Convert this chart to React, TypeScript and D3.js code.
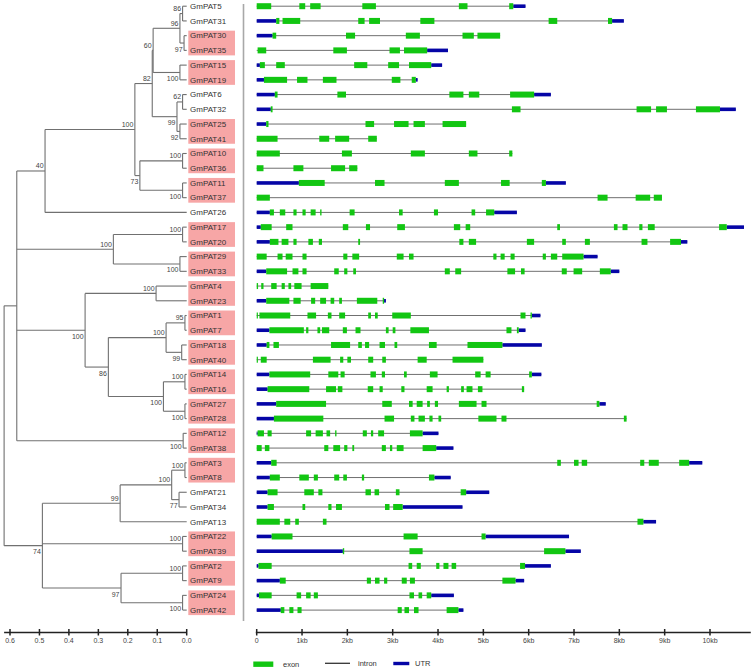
import React from 'react';
import * as d3 from 'd3';

const genes = [
  'GmPAT5', 'GmPAT31', 'GmPAT30', 'GmPAT35', 'GmPAT15', 'GmPAT19', 'GmPAT6', 'GmPAT32',
  'GmPAT25', 'GmPAT41', 'GmPAT10', 'GmPAT36', 'GmPAT11', 'GmPAT37', 'GmPAT26', 'GmPAT17',
  'GmPAT20', 'GmPAT29', 'GmPAT33', 'GmPAT4', 'GmPAT23', 'GmPAT1', 'GmPAT7', 'GmPAT18',
  'GmPAT40', 'GmPAT14', 'GmPAT16', 'GmPAT27', 'GmPAT28', 'GmPAT12', 'GmPAT38', 'GmPAT3',
  'GmPAT8', 'GmPAT21', 'GmPAT34', 'GmPAT13', 'GmPAT22', 'GmPAT39', 'GmPAT2', 'GmPAT9',
  'GmPAT24', 'GmPAT42',
];

const highlightPairs = [
  ['GmPAT30', 'GmPAT35'], ['GmPAT15', 'GmPAT19'], ['GmPAT25', 'GmPAT41'], ['GmPAT10', 'GmPAT36'],
  ['GmPAT11', 'GmPAT37'], ['GmPAT17', 'GmPAT20'], ['GmPAT29', 'GmPAT33'], ['GmPAT4', 'GmPAT23'],
  ['GmPAT1', 'GmPAT7'], ['GmPAT18', 'GmPAT40'], ['GmPAT14', 'GmPAT16'], ['GmPAT27', 'GmPAT28'],
  ['GmPAT12', 'GmPAT38'], ['GmPAT3', 'GmPAT8'], ['GmPAT22', 'GmPAT39'], ['GmPAT2', 'GmPAT9'],
  ['GmPAT24', 'GmPAT42'],
];

// internal nodes: id, children, height (distance from tips), bootstrap support
const treeNodes = [
  { id: 'A', children: ['GmPAT5', 'GmPAT31'], height: 0.014, support: 86 },
  { id: 'B', children: ['GmPAT30', 'GmPAT35'], height: 0.009, support: 97 },
  { id: 'C', children: ['A', 'B'], height: 0.023, support: 96 },
  { id: 'D', children: ['GmPAT15', 'GmPAT19'], height: 0.023, support: 100 },
  { id: 'E', children: ['C', 'D'], height: 0.114, support: 60 },
  { id: 'F', children: ['GmPAT6', 'GmPAT32'], height: 0.014, support: 62 },
  { id: 'G', children: ['GmPAT25', 'GmPAT41'], height: 0.023, support: 92 },
  { id: 'H', children: ['F', 'G'], height: 0.033, support: 99 },
  { id: 'I', children: ['E', 'H'], height: 0.117, support: 82 },
  { id: 'J', children: ['GmPAT10', 'GmPAT36'], height: 0.014, support: 100 },
  { id: 'K', children: ['GmPAT11', 'GmPAT37'], height: 0.014, support: 100 },
  { id: 'L', children: ['J', 'K'], height: 0.159, support: 73 },
  { id: 'M', children: ['I', 'L'], height: 0.176, support: 100 },
  { id: 'N', children: ['M', 'GmPAT26'], height: 0.481, support: 40 },
  { id: 'O', children: ['GmPAT17', 'GmPAT20'], height: 0.014, support: 100 },
  { id: 'P', children: ['GmPAT29', 'GmPAT33'], height: 0.023, support: 100 },
  { id: 'Q', children: ['O', 'P'], height: 0.249, support: 100 },
  { id: 'R', children: ['GmPAT4', 'GmPAT23'], height: 0.104, support: 100 },
  { id: 'S', children: ['GmPAT1', 'GmPAT7'], height: 0.006, support: 95 },
  { id: 'T', children: ['GmPAT18', 'GmPAT40'], height: 0.017, support: 99 },
  { id: 'U', children: ['S', 'T'], height: 0.07, support: 100 },
  { id: 'V', children: ['GmPAT14', 'GmPAT16'], height: 0.006, support: 100 },
  { id: 'W', children: ['GmPAT27', 'GmPAT28'], height: 0.006, support: 100 },
  { id: 'X', children: ['V', 'W'], height: 0.079, support: 100 },
  { id: 'Y', children: ['U', 'X'], height: 0.266, support: 86 },
  { id: 'Z', children: ['R', 'Y'], height: 0.345, support: 100 },
  { id: 'AA', children: ['GmPAT12', 'GmPAT38'], height: 0.012, support: 100 },
  { id: 'AB', children: ['N', 'Q', 'Z', 'AA'], height: 0.577, support: null },
  { id: 'AC', children: ['GmPAT3', 'GmPAT8'], height: 0.006, support: 100 },
  { id: 'AD', children: ['GmPAT21', 'GmPAT34'], height: 0.026, support: 77 },
  { id: 'AE', children: ['AC', 'AD'], height: 0.051, support: 100 },
  { id: 'AF', children: ['AE', 'GmPAT13'], height: 0.226, support: 99 },
  { id: 'AG', children: ['GmPAT22', 'GmPAT39'], height: 0.014, support: 100 },
  { id: 'AH', children: ['GmPAT2', 'GmPAT9'], height: 0.014, support: 100 },
  { id: 'AI', children: ['GmPAT24', 'GmPAT42'], height: 0.014, support: 100 },
  { id: 'AJ', children: ['AH', 'AI'], height: 0.223, support: 97 },
  { id: 'AK', children: ['AF', 'AG', 'AJ'], height: 0.49, support: 74 },
  { id: 'root', children: ['AB', 'AK'], height: 0.62, support: null },
];

const supportBelow = ['B', 'D', 'G', 'H', 'K', 'L', 'P', 'T', 'W', 'X', 'Y', 'Z', 'AA', 'AD', 'AI', 'AJ', 'AK'];

// gene structures in kb: [start, end, kind] (E exon, U UTR)
const geneFeatures: Record<string, [number, number, string][]> = {
  GmPAT5: [[0, 0.32, 'E'], [0.94, 1.07, 'E'], [1.18, 1.41, 'E'], [2.33, 2.63, 'E'], [4.46, 4.65, 'E'], [5.57, 5.66, 'E'], [5.66, 5.93, 'U']],
  GmPAT31: [[0, 0.43, 'U'], [0.43, 0.5, 'E'], [0.57, 0.96, 'E'], [2.24, 2.38, 'E'], [2.48, 2.72, 'E'], [3.61, 3.92, 'E'], [6.44, 6.63, 'E'], [7.75, 7.84, 'E'], [7.84, 8.1, 'U']],
  GmPAT30: [[0, 0.35, 'U'], [0.35, 0.43, 'E'], [1.97, 2.17, 'E'], [3.29, 3.6, 'E'], [4.54, 4.79, 'E'], [4.87, 5.37, 'E']],
  GmPAT35: [[0, 0.02, 'I'], [0.02, 0.21, 'E'], [1.69, 1.99, 'E'], [2.93, 3.16, 'E'], [3.25, 3.76, 'E'], [3.76, 4.22, 'U']],
  GmPAT15: [[0, 0.07, 'U'], [0.07, 0.18, 'E'], [0.43, 0.62, 'E'], [2.15, 2.44, 'E'], [2.9, 3.14, 'E'], [3.36, 3.85, 'E'], [3.85, 4.09, 'U']],
  GmPAT19: [[0, 0.16, 'U'], [0.16, 0.67, 'E'], [0.89, 1.12, 'E'], [1.46, 1.76, 'E'], [2.98, 3.17, 'E'], [3.42, 3.51, 'E'], [3.51, 3.55, 'U']],
  GmPAT6: [[0, 0.4, 'U'], [0.4, 0.46, 'E'], [1.78, 1.97, 'E'], [4.25, 4.56, 'E'], [4.68, 4.91, 'E'], [5.59, 6.12, 'E'], [6.12, 6.49, 'U']],
  GmPAT32: [[0, 0.31, 'U'], [0.31, 0.35, 'E'], [5.63, 5.82, 'E'], [8.38, 8.7, 'E'], [8.81, 9.05, 'E'], [9.69, 10.22, 'E'], [10.22, 10.57, 'U']],
  GmPAT25: [[0, 0.21, 'U'], [0.21, 0.26, 'E'], [2.4, 2.59, 'E'], [3.03, 3.35, 'E'], [3.46, 3.71, 'E'], [4.1, 4.62, 'E']],
  GmPAT41: [[0, 0.46, 'E'], [1.38, 1.6, 'E'], [1.73, 2.04, 'E'], [2.46, 2.65, 'E']],
  GmPAT10: [[0, 0.51, 'E'], [1.88, 2.1, 'E'], [3.4, 3.71, 'E'], [4.68, 4.87, 'E'], [5.57, 5.64, 'E']],
  GmPAT36: [[0, 0.15, 'E'], [0.81, 1.03, 'E'], [1.64, 1.95, 'E'], [2.04, 2.22, 'E']],
  GmPAT11: [[0, 0.93, 'U'], [0.93, 1.5, 'E'], [2.61, 2.82, 'E'], [4.15, 4.46, 'E'], [5.39, 5.58, 'E'], [6.29, 6.38, 'E'], [6.38, 6.82, 'U']],
  GmPAT37: [[0, 0.29, 'E'], [7.52, 7.74, 'E'], [8.36, 8.68, 'E'], [8.76, 8.94, 'E']],
  GmPAT26: [[0, 0.29, 'U'], [0.29, 0.38, 'E'], [0.51, 0.63, 'E'], [0.81, 0.88, 'E'], [1.01, 1.08, 'E'], [1.19, 1.3, 'E'], [1.4, 1.43, 'E'], [2.05, 2.16, 'E'], [3.14, 3.22, 'E'], [3.91, 4.0, 'E'], [4.74, 4.82, 'E'], [5.06, 5.24, 'E'], [5.24, 5.74, 'U']],
  GmPAT17: [[0, 0.09, 'U'], [0.09, 0.33, 'E'], [0.65, 0.79, 'E'], [1.9, 2.02, 'E'], [2.41, 2.5, 'E'], [3.1, 3.27, 'E'], [4.35, 4.49, 'E'], [4.61, 4.71, 'E'], [6.63, 6.69, 'E'], [7.88, 7.96, 'E'], [8.07, 8.18, 'E'], [8.44, 8.51, 'E'], [8.63, 8.78, 'E'], [10.2, 10.37, 'E'], [10.37, 10.75, 'U']],
  GmPAT20: [[0, 0.29, 'U'], [0.29, 0.48, 'E'], [0.55, 0.7, 'E'], [0.81, 0.88, 'E'], [1.14, 1.24, 'E'], [1.37, 1.44, 'E'], [2.24, 2.28, 'E'], [4.47, 4.56, 'E'], [4.68, 4.84, 'E'], [5.96, 6.12, 'E'], [6.74, 6.82, 'E'], [7.24, 7.35, 'E'], [8.49, 8.62, 'E'], [9.12, 9.36, 'E'], [9.36, 9.5, 'U']],
  GmPAT29: [[0, 0.22, 'E'], [0.46, 0.57, 'E'], [0.64, 0.79, 'E'], [1.01, 1.1, 'E'], [1.91, 2.0, 'E'], [2.11, 2.26, 'E'], [3.09, 3.24, 'E'], [3.36, 3.46, 'E'], [5.22, 5.29, 'E'], [5.38, 5.47, 'E'], [5.6, 5.69, 'E'], [6.31, 6.38, 'E'], [6.49, 6.63, 'E'], [6.74, 7.21, 'E'], [7.21, 7.52, 'U']],
  GmPAT33: [[0, 0.21, 'U'], [0.21, 0.67, 'E'], [0.79, 0.92, 'E'], [1.01, 1.1, 'E'], [1.71, 1.81, 'E'], [1.93, 2.0, 'E'], [2.13, 2.19, 'E'], [4.15, 4.26, 'E'], [4.38, 4.51, 'E'], [5.53, 5.7, 'E'], [5.83, 5.91, 'E'], [6.73, 6.84, 'E'], [6.99, 7.18, 'E'], [7.57, 7.81, 'E'], [7.81, 8.0, 'U']],
  GmPAT4: [[0, 0.03, 'E'], [0.1, 0.15, 'E'], [0.32, 0.44, 'E'], [0.55, 0.62, 'E'], [0.7, 0.76, 'E'], [0.83, 0.99, 'E'], [1.19, 1.58, 'E']],
  GmPAT23: [[0, 0.21, 'U'], [0.21, 0.72, 'E'], [0.81, 0.97, 'E'], [1.2, 1.29, 'E'], [1.4, 1.53, 'E'], [1.63, 1.71, 'E'], [1.82, 1.88, 'E'], [2.21, 2.66, 'E'], [2.78, 2.81, 'E'], [2.81, 2.85, 'U']],
  GmPAT1: [[0, 0.02, 'E'], [0.06, 0.74, 'E'], [1.12, 1.31, 'E'], [1.57, 1.65, 'E'], [1.82, 1.95, 'E'], [2.46, 2.52, 'E'], [2.61, 2.67, 'E'], [2.99, 3.4, 'E'], [5.82, 5.93, 'E'], [6.04, 6.07, 'E'], [6.07, 6.26, 'U']],
  GmPAT7: [[0, 0.28, 'U'], [0.28, 1.04, 'E'], [1.09, 1.14, 'E'], [1.34, 1.4, 'E'], [1.44, 1.6, 'E'], [1.9, 1.99, 'E'], [2.18, 2.29, 'E'], [2.85, 2.91, 'E'], [3.0, 3.06, 'E'], [3.39, 3.8, 'E'], [5.51, 5.62, 'E'], [5.74, 5.78, 'E'], [5.78, 5.93, 'U']],
  GmPAT18: [[0, 0.22, 'U'], [0.22, 0.28, 'E'], [0.37, 0.49, 'E'], [1.64, 2.06, 'E'], [2.24, 2.32, 'E'], [2.39, 2.48, 'E'], [2.71, 2.83, 'E'], [3.04, 3.1, 'E'], [3.8, 3.97, 'E'], [4.65, 5.42, 'E'], [5.42, 6.29, 'U']],
  GmPAT40: [[0, 0.02, 'E'], [0.09, 0.22, 'E'], [1.24, 1.63, 'E'], [1.84, 1.91, 'E'], [2.0, 2.08, 'E'], [2.46, 2.57, 'E'], [2.77, 2.85, 'E'], [3.55, 3.75, 'E'], [4.32, 5.0, 'E']],
  GmPAT14: [[0, 0.28, 'U'], [0.28, 1.18, 'E'], [1.58, 1.8, 'E'], [1.85, 1.94, 'E'], [2.51, 2.63, 'E'], [2.76, 2.83, 'E'], [3.25, 3.31, 'E'], [3.82, 3.99, 'E'], [4.82, 4.94, 'E'], [5.05, 5.16, 'E'], [6.01, 6.07, 'E'], [6.07, 6.28, 'U']],
  GmPAT16: [[0, 0.24, 'U'], [0.24, 1.16, 'E'], [1.53, 1.75, 'E'], [1.79, 1.89, 'E'], [2.45, 2.57, 'E'], [2.71, 2.78, 'E'], [3.19, 3.26, 'E'], [3.75, 3.88, 'E'], [4.19, 4.24, 'E'], [4.51, 4.57, 'E'], [4.63, 4.76, 'E'], [4.88, 4.98, 'E'], [5.85, 5.9, 'E']],
  GmPAT27: [[0, 0.43, 'U'], [0.43, 1.53, 'E'], [2.77, 2.98, 'E'], [3.36, 3.44, 'E'], [3.53, 3.66, 'E'], [3.76, 3.82, 'E'], [3.93, 4.0, 'E'], [4.46, 4.85, 'E'], [4.96, 5.07, 'E'], [7.5, 7.56, 'E'], [7.56, 7.7, 'U']],
  GmPAT28: [[0, 0.38, 'U'], [0.38, 1.47, 'E'], [2.82, 3.03, 'E'], [3.4, 3.48, 'E'], [3.57, 3.71, 'E'], [3.81, 3.88, 'E'], [4.01, 4.07, 'E'], [4.89, 5.29, 'E'], [5.4, 5.51, 'E'], [8.1, 8.16, 'E']],
  GmPAT12: [[0, 0.02, 'U'], [0.02, 0.16, 'E'], [0.24, 0.33, 'E'], [1.09, 1.2, 'E'], [1.3, 1.46, 'E'], [1.54, 1.62, 'E'], [1.73, 1.76, 'E'], [2.34, 2.43, 'E'], [2.52, 2.57, 'E'], [2.68, 2.81, 'E'], [3.38, 3.66, 'E'], [3.66, 4.01, 'U']],
  GmPAT38: [[0, 0.11, 'E'], [0.18, 0.28, 'E'], [1.49, 1.58, 'E'], [1.69, 1.84, 'E'], [1.93, 2.0, 'E'], [2.11, 2.15, 'E'], [2.76, 2.85, 'E'], [2.94, 2.99, 'E'], [3.09, 3.24, 'E'], [3.66, 3.96, 'E'], [3.96, 4.34, 'U']],
  GmPAT3: [[0, 0.32, 'U'], [0.32, 0.44, 'E'], [6.63, 6.71, 'E'], [7.0, 7.1, 'E'], [7.17, 7.29, 'E'], [8.46, 8.55, 'E'], [8.65, 8.87, 'E'], [9.32, 9.54, 'E'], [9.54, 9.83, 'U']],
  GmPAT8: [[0, 0.29, 'U'], [0.29, 0.51, 'E'], [0.94, 1.15, 'E'], [1.26, 1.35, 'E'], [1.71, 1.82, 'E'], [1.91, 1.99, 'E'], [2.32, 2.37, 'E'], [3.8, 3.92, 'E'], [3.92, 4.28, 'U']],
  GmPAT21: [[0, 0.24, 'U'], [0.24, 0.46, 'E'], [1.05, 1.26, 'E'], [1.36, 1.45, 'E'], [2.4, 2.52, 'E'], [2.6, 2.7, 'E'], [3.07, 3.15, 'E'], [4.5, 4.62, 'E'], [4.62, 5.13, 'U']],
  GmPAT34: [[0, 0.24, 'U'], [0.24, 0.38, 'E'], [1.01, 1.07, 'E'], [1.58, 1.65, 'E'], [1.75, 1.88, 'E'], [2.83, 2.93, 'E'], [3.01, 3.22, 'E'], [3.22, 4.54, 'U']],
  GmPAT13: [[0, 0.51, 'E'], [0.61, 0.74, 'E'], [0.85, 0.93, 'E'], [1.46, 1.54, 'E'], [8.4, 8.53, 'E'], [8.53, 8.81, 'U']],
  GmPAT22: [[0, 0.33, 'U'], [0.33, 0.79, 'E'], [3.24, 3.55, 'E'], [4.96, 5.05, 'E'], [5.05, 6.89, 'U']],
  GmPAT39: [[0, 1.9, 'U'], [1.9, 1.93, 'E'], [3.37, 3.66, 'E'], [6.34, 6.81, 'E'], [6.81, 7.15, 'U']],
  GmPAT2: [[0, 0.04, 'U'], [0.04, 0.33, 'E'], [3.35, 3.43, 'E'], [3.53, 3.62, 'E'], [3.96, 4.03, 'E'], [4.12, 4.23, 'E'], [4.3, 4.4, 'E'], [5.81, 5.92, 'E'], [5.92, 6.49, 'U']],
  GmPAT9: [[0, 0.51, 'U'], [0.51, 0.64, 'E'], [2.43, 2.52, 'E'], [2.61, 2.71, 'E'], [2.81, 2.88, 'E'], [3.2, 3.31, 'E'], [3.38, 3.49, 'E'], [5.42, 5.71, 'E'], [5.71, 5.9, 'U']],
  GmPAT24: [[0, 0.05, 'U'], [0.05, 0.33, 'E'], [0.88, 0.98, 'E'], [1.09, 1.19, 'E'], [1.26, 1.35, 'E'], [3.37, 3.47, 'E'], [3.57, 3.65, 'E'], [3.75, 3.85, 'E'], [3.85, 4.35, 'U']],
  GmPAT42: [[0, 0.53, 'U'], [0.53, 0.61, 'E'], [0.72, 0.81, 'E'], [0.9, 0.99, 'E'], [3.11, 3.2, 'E'], [3.26, 3.36, 'E'], [3.47, 3.57, 'E'], [4.19, 4.45, 'E'], [4.45, 4.56, 'U']],
};

const treeTicks = [0.6, 0.5, 0.4, 0.3, 0.2, 0.1, 0.0];
const geneTicks = [0, 1, 2, 3, 4, 5, 6, 7, 8, 9, 10];
const geneTickLabels = ['0', '1kb', '2kb', '3kb', '4kb', '5kb', '6kb', '7kb', '8kb', '9kb', '10kb'];
const legendLabels = ['exon', 'intron', 'UTR'];

const EXON = '#12c612';
const UTR = '#0505a6';
const LINE = '#707070';
const FONT = '"Liberation Sans", Arial, sans-serif';

export default function App() {
  const W = 754;
  const H = 672;
  const rowY = d3.scaleLinear().domain([0, genes.length - 1]).range([6.2, 610.1]);
  const treeX = d3.scaleLinear().domain([0.6, 0]).range([10, 186.7]);
  const geneX = d3.scaleLinear().domain([0, 10]).range([256.7, 710]);

  const nodeMap = new Map(treeNodes.map((n) => [n.id, n]));
  const yCache = new Map<string, number>();
  const getY = (id: string): number => {
    if (yCache.has(id)) return yCache.get(id)!;
    let y: number;
    const n = nodeMap.get(id);
    if (!n) y = rowY(genes.indexOf(id));
    else {
      const ys = n.children.map(getY);
      y = (ys[0] + ys[ys.length - 1]) / 2;
    }
    yCache.set(id, y);
    return y;
  };
  const getX = (id: string): number => {
    const n = nodeMap.get(id);
    return treeX(n ? n.height : 0);
  };

  const treeLines: JSX.Element[] = [];
  const supportLabels: JSX.Element[] = [];
  treeNodes.forEach((n) => {
    const x = getX(n.id);
    const ys = n.children.map(getY);
    treeLines.push(
      <line key={`v-${n.id}`} x1={x} x2={x} y1={ys[0]} y2={ys[ys.length - 1]} stroke={LINE} strokeWidth={1.1} />
    );
    n.children.forEach((c) => {
      treeLines.push(
        <line key={`h-${n.id}-${c}`} x1={x} x2={getX(c)} y1={getY(c)} y2={getY(c)} stroke={LINE} strokeWidth={1.1} />
      );
    });
    if (n.support != null) {
      const y = getY(n.id);
      const below = supportBelow.includes(n.id);
      supportLabels.push(
        <text key={`s-${n.id}`} x={x - 1.5} y={below ? y + 8.5 : y - 2.5} textAnchor="end" fontSize={7} fill="#444" fontFamily={FONT}>
          {n.support}
        </text>
      );
    }
  });

  const axisY = 632.5;
  const treeAxis = (
    <g>
      <line x1={treeX(0.62)} x2={treeX(0)} y1={axisY} y2={axisY} stroke="#222" strokeWidth={1.5} />
      {treeTicks.map((t) => (
        <g key={`tt-${t}`}>
          <line x1={treeX(t)} x2={treeX(t)} y1={axisY - 3.5} y2={axisY + 3} stroke="#222" strokeWidth={1.5} />
          <text x={treeX(t)} y={axisY + 10.5} textAnchor="middle" fontSize={7} fill="#444" fontFamily={FONT}>
            {t.toFixed(1)}
          </text>
        </g>
      ))}
    </g>
  );

  const geneAxis = (
    <g>
      <line x1={geneX(-0.02)} x2={geneX(10.9)} y1={axisY} y2={axisY} stroke="#222" strokeWidth={1.5} />
      {geneTicks.map((t, i) => (
        <g key={`gt-${t}`}>
          <line x1={geneX(t)} x2={geneX(t)} y1={axisY - 3.5} y2={axisY + 3} stroke="#222" strokeWidth={1.5} />
          <text x={geneX(t)} y={axisY + 10.5} textAnchor="middle" fontSize={7} fill="#444" fontFamily={FONT}>
            {geneTickLabels[i]}
          </text>
        </g>
      ))}
    </g>
  );

  const legendY = 664.3;

  return (
    <svg width={W} height={H} style={{ position: 'absolute', left: 0, top: 0, background: '#fff' }}>
      <rect x={0} y={0} width={W} height={H} fill="#fff" />
      <g opacity={0.999}>
        {highlightPairs.map(([a, b]) => {
          const y0 = rowY(genes.indexOf(a)) - 5;
          const y1 = rowY(genes.indexOf(b)) + 5;
          return <rect key={`hl-${a}`} x={188.3} y={y0} width={46.7} height={y1 - y0} fill="#f7a6a6" />;
        })}
        {treeLines}
        {supportLabels}
        {genes.map((g, i) => (
          <text key={`lab-${g}`} x={190} y={rowY(i)} dy="0.35em" fontSize={8} fill="#333" fontFamily={FONT}>
            {g}
          </text>
        ))}
        <line x1={243.5} x2={243.5} y1={4} y2={621} stroke="#a8a8a8" strokeWidth={1.6} />
        {genes.map((g, i) => {
          const feats = geneFeatures[g];
          const y = rowY(i);
          const end = d3.max(feats, (f) => f[1]) as number;
          return (
            <g key={`gene-${g}`}>
              <line x1={geneX(0)} x2={geneX(end)} y1={y} y2={y} stroke={LINE} strokeWidth={1} />
              {feats
                .filter((f) => f[2] === 'U')
                .map((f, j) => (
                  <rect key={`u${j}`} x={geneX(f[0])} y={y - 1.8} width={geneX(f[1]) - geneX(f[0])} height={3.6} fill={UTR} />
                ))}
              {feats
                .filter((f) => f[2] === 'E')
                .map((f, j) => (
                  <rect key={`e${j}`} x={geneX(f[0])} y={y - 3} width={Math.max(1.2, geneX(f[1]) - geneX(f[0]))} height={6} fill={EXON} />
                ))}
            </g>
          );
        })}
        {treeAxis}
        {geneAxis}
        <g fontFamily={FONT} fontSize={7.5} fill="#333">
          <rect x={253.3} y={legendY - 2.8} width={20} height={5.4} fill={EXON} />
          <text x={283} y={legendY} dy="0.35em">{legendLabels[0]}</text>
          <line x1={325} x2={350} y1={legendY - 1} y2={legendY - 1} stroke="#333" strokeWidth={1.3} />
          <text x={358} y={legendY - 1} dy="0.35em">{legendLabels[1]}</text>
          <rect x={393.3} y={legendY - 2.5} width={16} height={3.4} fill={UTR} />
          <text x={415} y={legendY - 1} dy="0.35em">{legendLabels[2]}</text>
        </g>
      </g>
    </svg>
  );
}
